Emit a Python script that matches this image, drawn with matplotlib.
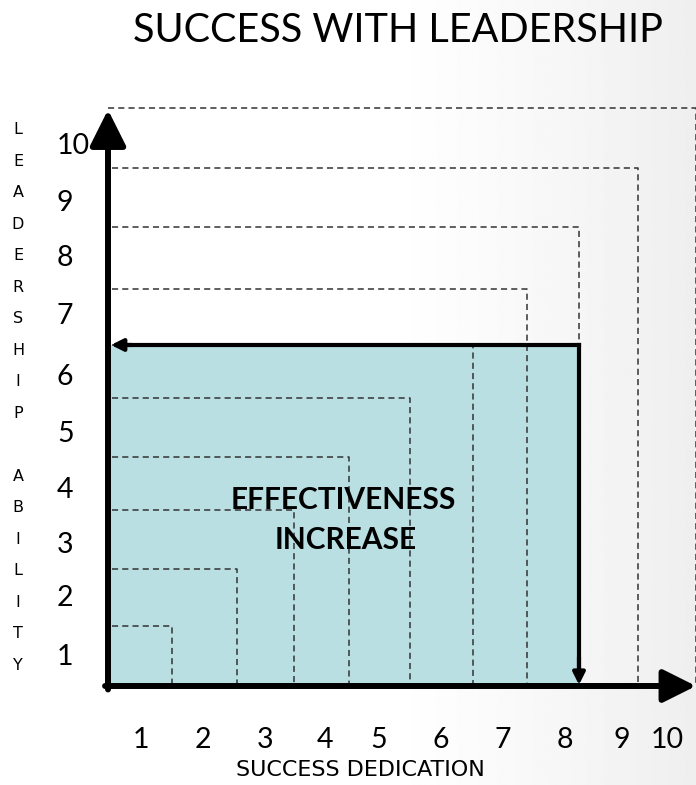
import matplotlib.pyplot as plt
import numpy as np

# Level lines as drawn (levels 1..10 on each axis)
x_levels = [1.09, 2.19, 3.16, 4.10, 5.14, 6.21, 7.13, 8.01, 9.01, 10.0]
y_levels = [1.04, 2.02, 3.05, 3.96, 4.98, 5.90, 6.87, 7.94, 8.96, 10.0]
x_tick_labels = ["1", "2", "3", "4", "5", "6", "7", "8", "9", "10"]
y_tick_labels = ["1", "2", "3", "4", "5", "6", "7", "8", "9", "10"]
x_label_pos = [0.56, 1.62, 2.67, 3.69, 4.61, 5.66, 6.72, 7.77, 8.74, 9.52]
y_label_pos = [0.50, 1.52, 2.44, 3.39, 4.36, 5.35, 6.40, 7.40, 8.36, 9.34]

# the highlighted area: dedication level 8, leadership level 6
sel_dedication = 8
sel_ability = 6

title = "SUCCESS WITH LEADERSHIP"
x_title = "SUCCESS DEDICATION"
y_title = "LEADERSHIP ABILITY"
fill_color = "#b9dfe3"
dash_color = "#333333"

fig = plt.figure(figsize=(6.96, 7.85), dpi=100)

# soft white -> grey background
bg = fig.add_axes([0, 0, 1, 1])
bg.axis("off")
xs = np.linspace(0, 1, 400)
shade = np.where(xs < 0.55, 1.0, 1.0 - 0.065 * ((xs - 0.55) / 0.45) ** 1.2)
bg.imshow(np.tile(shade, (10, 1)), cmap="gray", vmin=0, vmax=1,
          aspect="auto", extent=[0, 1, 0, 1])
bg.set_xlim(0, 1)
bg.set_ylim(0, 1)

ax = fig.add_axes([108 / 696, 99 / 785, 588 / 696, 578 / 785])
ax.set_xlim(0, 10)
ax.set_ylim(0, 10)
ax.axis("off")

xd = x_levels[sel_dedication - 1]
ya = y_levels[sel_ability - 1]
ax.fill_between([0, xd], 0, ya, color=fill_color, lw=0, zorder=1)

# dashed L shapes for each level
for i, (xv, yv) in enumerate(zip(x_levels, y_levels)):
    x0 = 0.0 if i == len(x_levels) - 1 else 0.07
    ax.plot([x0, xv, xv], [yv, yv, 0], color=dash_color, lw=1.1,
            linestyle=(0, (4, 2.7)), zorder=2, clip_on=False)

# solid outline of the selected area with small arrow heads
ax.plot([0.2, xd], [ya, ya], color="black", lw=3, zorder=4,
        solid_capstyle="projecting")
ax.plot([xd, xd], [ya, 0.2], color="black", lw=3, zorder=4)
ax.annotate("", xy=(0.05, ya), xytext=(0.4, ya),
            arrowprops=dict(arrowstyle="-|>,head_length=0.7,head_width=0.35",
                            color="black", lw=3, shrinkA=0, shrinkB=0), zorder=4)
ax.annotate("", xy=(xd, 0.02), xytext=(xd, 0.5),
            arrowprops=dict(arrowstyle="-|>,head_length=0.7,head_width=0.35",
                            color="black", lw=3, shrinkA=0, shrinkB=0), zorder=4)

# main axes arrows
ax.annotate("", xy=(0, 9.97), xytext=(0, -0.06),
            arrowprops=dict(arrowstyle="-|>,head_length=2.2,head_width=1.1",
                            color="black", lw=4.3, shrinkA=0, shrinkB=0),
            annotation_clip=False, zorder=5)
ax.annotate("", xy=(10.0, 0), xytext=(-0.05, 0),
            arrowprops=dict(arrowstyle="-|>,head_length=2.0,head_width=1.0",
                            color="black", lw=4.3, shrinkA=0, shrinkB=0),
            annotation_clip=False, zorder=5)

# tick labels
for xp, lab in zip(x_label_pos, x_tick_labels):
    ax.text(xp, -0.93, lab, ha="center", va="center", fontsize=20.5,
            family="Lato", clip_on=False)
for yp, lab in zip(y_label_pos, y_tick_labels):
    ax.text(-0.87, yp, lab, ha="left", va="center", fontsize=20.5,
            family="Lato", clip_on=False)

# axis titles
ax.text(4.3, -1.45, x_title, ha="center", va="center", fontsize=16,
        family="DejaVu Sans", clip_on=False)
step = 31.5 / 57.8
for k, ch in enumerate(y_title):
    if ch == " ":
        continue
    ax.text(-1.53, 9.62 - k * step, ch, ha="center", va="center",
            fontsize=11.5, family="DejaVu Sans", clip_on=False)

ax.text(4.01, 3.22, "EFFECTIVENESS", ha="center", va="center", fontsize=21.5,
        fontweight="bold", family="Lato", zorder=6)
ax.text(4.05, 2.52, "INCREASE", ha="center", va="center", fontsize=21.5,
        fontweight="bold", family="Lato", zorder=6)

fig.text(398 / 696, 1 - 30 / 785, title, ha="center", va="center",
         fontsize=28.5, family="Lato")

fig.savefig("out.png", dpi=100)
